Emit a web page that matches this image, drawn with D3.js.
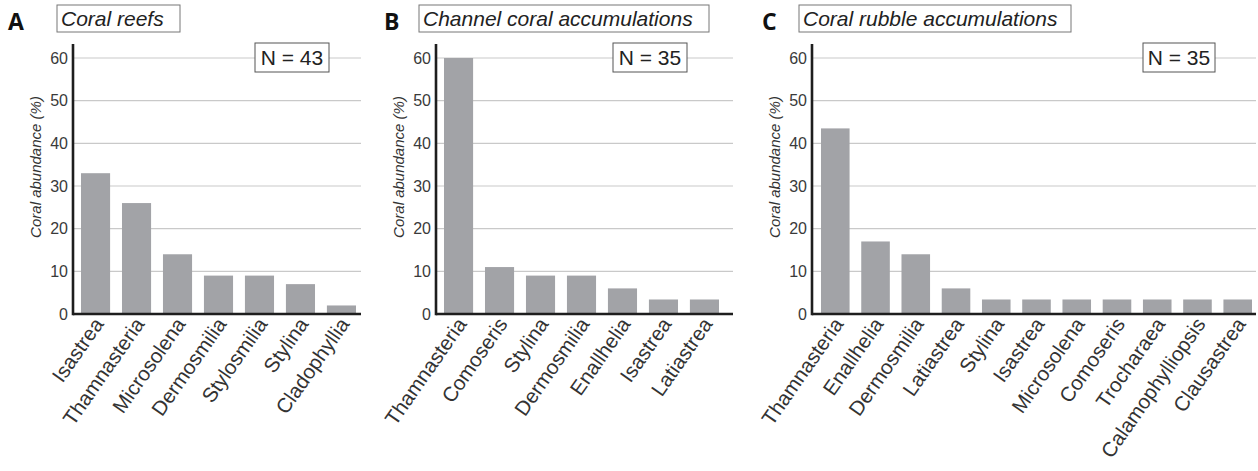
<!DOCTYPE html>
<html>
<head>
<meta charset="utf-8">
<script src="https://cdn.jsdelivr.net/npm/d3@7"></script>
<style>
  html, body { margin: 0; padding: 0; background: #fff; }
  svg { display: block; }
</style>
</head>
<body>
<svg id="chart" width="1258" height="471"></svg>
<script>
// ---- Data ----
const catsA = ["Isastrea", "Thamnasteria", "Microsolena", "Dermosmilia", "Stylosmilia", "Stylina", "Cladophyllia"];
const valsA = [33, 26, 14, 9, 9, 7, 2];
const catsB = ["Thamnasteria", "Comoseris", "Stylina", "Dermosmilia", "Enallhelia", "Isastrea", "Latiastrea"];
const valsB = [60, 11, 9, 9, 6, 3.4, 3.4];
const catsC = ["Thamnasteria", "Enallhelia", "Dermosmilia", "Latiastrea", "Stylina", "Isastrea", "Microsolena", "Comoseris", "Trocharaea", "Calamophylliopsis", "Clausastrea"];
const valsC = [43.5, 17, 14, 6, 3.4, 3.4, 3.4, 3.4, 3.4, 3.4, 3.4];
const yTicks = [0, 10, 20, 30, 40, 50, 60];
const panelLetters = ["A", "B", "C"];
const panelTitles = ["Coral reefs", "Channel coral accumulations", "Coral rubble accumulations"];
const nLabels = ["N = 43", "N = 35", "N = 35"];
const yAxisTitle = "Coral abundance (%)";

// ---- Layout (positions only) ----
const layout = [
  { axisX: 73,  gridEnd: 361,  bars: [81, 356],   title: [57, 180],  nbox: [255, 329],  letterX: 8 },
  { axisX: 436, gridEnd: 733,  bars: [444, 719],  title: [419, 709], nbox: [613, 687],  letterX: 384 },
  { axisX: 812, gridEnd: 1256, bars: [821, 1252], title: [799, 1071], nbox: [1143, 1215], letterX: 762 }
];
const cats = [catsA, catsB, catsC];
const vals = [valsA, valsB, valsC];

const svg = d3.select("#chart");
const font = "'Liberation Sans', Arial, Helvetica, sans-serif";
const y = d3.scaleLinear().domain([0, 60]).range([314, 58]);
const yTopVal = 63.3;

layout.forEach((L, i) => {
  const g = svg.append("g");
  const x = d3.scaleBand().domain(cats[i]).range(L.bars).paddingInner(0.29).paddingOuter(0);

  // gridlines
  g.selectAll("line.grid").data(yTicks.filter(t => t > 0)).enter().append("line")
    .attr("x1", L.axisX).attr("x2", L.gridEnd)
    .attr("y1", d => y(d)).attr("y2", d => y(d))
    .attr("stroke", "#c9c9c9").attr("stroke-width", 1.2);

  // y tick labels via axis
  const yAxis = d3.axisLeft(y).tickValues(yTicks).tickSize(0).tickPadding(5);
  const ya = g.append("g").attr("transform", `translate(${L.axisX},0)`).call(yAxis);
  ya.select(".domain").remove();
  ya.selectAll("text").attr("font-family", font).attr("font-size", 16).attr("fill", "#3a3a3a");

  // bars
  g.selectAll("rect.bar").data(cats[i].map((c, j) => ({ c, v: vals[i][j] }))).enter().append("rect")
    .attr("x", d => x(d.c)).attr("width", x.bandwidth())
    .attr("y", d => y(d.v)).attr("height", d => y(0) - y(d.v))
    .attr("fill", "#a2a3a7");

  // axes lines
  g.append("line").attr("x1", L.axisX).attr("x2", L.axisX)
    .attr("y1", y(yTopVal)).attr("y2", y(0) + 1.2)
    .attr("stroke", "#1e1e1e").attr("stroke-width", 2.6);
  g.append("line").attr("x1", L.axisX).attr("x2", L.gridEnd)
    .attr("y1", y(0)).attr("y2", y(0))
    .attr("stroke", "#1e1e1e").attr("stroke-width", 2.6);

  // x labels
  g.selectAll("text.xl").data(cats[i]).enter().append("text")
    .attr("transform", d => `translate(${x(d) + x.bandwidth() / 2 + 3},320) rotate(-55)`)
    .attr("text-anchor", "end").attr("dy", "0.35em")
    .attr("font-family", font).attr("font-size", 20.5).attr("fill", "#333")
    .text(d => d);

  // y axis title
  g.append("text")
    .attr("transform", `translate(${L.axisX - 32},167) rotate(-90)`)
    .attr("text-anchor", "middle")
    .attr("font-family", font).attr("font-style", "italic").attr("font-size", 15).attr("fill", "#333")
    .text(yAxisTitle);

  // N box
  g.append("rect").attr("x", L.nbox[0]).attr("y", 43).attr("width", L.nbox[1] - L.nbox[0]).attr("height", 29)
    .attr("fill", "#fff").attr("stroke", "#555").attr("stroke-width", 1);
  g.append("text").attr("x", (L.nbox[0] + L.nbox[1]) / 2).attr("y", 65)
    .attr("text-anchor", "middle").attr("font-family", font).attr("font-size", 21).attr("fill", "#222")
    .text(nLabels[i]);

  // title box
  g.append("rect").attr("x", L.title[0]).attr("y", 5).attr("width", L.title[1] - L.title[0]).attr("height", 27)
    .attr("fill", "#fff").attr("stroke", "#777").attr("stroke-width", 1);
  g.append("text").attr("x", L.title[0] + 4).attr("y", 26)
    .attr("font-family", font).attr("font-style", "italic").attr("font-size", 21).attr("fill", "#222")
    .text(panelTitles[i]);

  // panel letter
  g.append("text").attr("x", L.letterX).attr("y", 30)
    .attr("font-family", "'Open Sans', 'Noto Sans', sans-serif").attr("font-weight", "bold").attr("font-size", 23).attr("fill", "#111")
    .text(panelLetters[i]);
});
</script>
</body>
</html>
